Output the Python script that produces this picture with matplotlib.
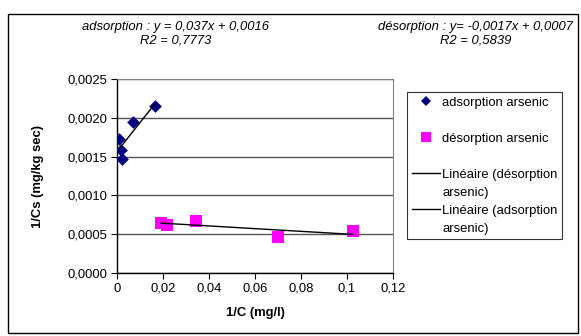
import numpy as np
import matplotlib
matplotlib.use("Agg")
import matplotlib.pyplot as plt
from matplotlib.patches import Rectangle
from matplotlib.lines import Line2D

plt.rcParams['font.family'] = ['Liberation Sans', 'DejaVu Sans']

# Data
ads_x = [0.0010, 0.0016, 0.0023, 0.0070, 0.0164]
ads_y = [0.00173, 0.00159, 0.00147, 0.00194, 0.00215]
des_x = [0.0191, 0.0216, 0.0343, 0.0701, 0.1025]
des_y = [0.00065, 0.00062, 0.00067, 0.00047, 0.00054]

x_ticks = [0, 0.02, 0.04, 0.06, 0.08, 0.10, 0.12]
x_ticklabels = ["0", "0,02", "0,04", "0,06", "0,08", "0,1", "0,12"]
y_ticks = [0.0, 0.0005, 0.0010, 0.0015, 0.0020, 0.0025]
y_ticklabels = ["0,0000", "0,0005", "0,0010", "0,0015", "0,0020", "0,0025"]

ads_eq = "adsorption : y = 0,037x + 0,0016\nR2 = 0,7773"
des_eq = "désorption : y= -0,0017x + 0,0007\nR2 = 0,5839"

FS = 9.4
W, H = 581, 336
fig = plt.figure(figsize=(W / 100, H / 100), dpi=100)
ax = fig.add_axes([117 / W, 1 - 273 / H, (393 - 117) / W, (273 - 79) / H])

# outer frame
fig.patches.append(Rectangle((8 / W, 1 - 333 / H), (578 - 8) / W, (333 - 14) / H,
                             transform=fig.transFigure, fill=False,
                             edgecolor='black', linewidth=1.0))

ax.set_xlim(0, 0.12)
ax.set_ylim(0, 0.0025)
ax.set_yticks(y_ticks)
ax.set_yticklabels(y_ticklabels)
ax.set_xticks(x_ticks)
ax.set_xticklabels(x_ticklabels)
ax.tick_params(axis='both', labelsize=FS, length=4, width=0.8, direction='out', pad=3)
ax.yaxis.grid(True, color='#555555', linewidth=1.0)
ax.set_axisbelow(True)
for s in ['top', 'right']:
    ax.spines[s].set_color('#808080')
for s in ['left', 'bottom']:
    ax.spines[s].set_color('black')
    ax.spines[s].set_linewidth(1.0)

ax.scatter(ads_x, ads_y, marker='D', s=42, color='#000080', zorder=3, linewidths=0)
ax.scatter(des_x, des_y, marker='s', s=70, color='#FF00FF', zorder=3, linewidths=0)

pd_ = np.polyfit(des_x, des_y, 1)
xd = np.array([min(des_x), max(des_x)])
l_des, = ax.plot(xd, np.polyval(pd_, xd), color='black', linewidth=1.0, zorder=4)
pa_ = np.polyfit(ads_x, ads_y, 1)
xa = np.array([min(ads_x), max(ads_x)])
l_ads, = ax.plot(xa, np.polyval(pa_, xa), color='black', linewidth=1.0, zorder=4)

ax.set_xlabel("1/C (mg/l)", fontsize=FS, fontweight='bold', labelpad=9)
ax.set_ylabel("1/Cs (mg/kg sec)", fontsize=FS, fontweight='bold', labelpad=17)

spacer = Line2D([], [], linestyle='none', marker='none')
leg_ads = Line2D([], [], linestyle='none', marker='D', markersize=5.5,
                 color='#000080', markeredgewidth=0)
leg_des = Line2D([], [], linestyle='none', marker='s', markersize=7,
                 color='#FF00FF', markeredgewidth=0)
handles = [leg_ads, spacer, leg_des, spacer, l_des, spacer, l_ads, spacer]
labels = ['adsorption arsenic', ' ', 'désorption arsenic', ' ',
          'Linéaire (désorption', 'arsenic)', 'Linéaire (adsorption', 'arsenic)']
leg = fig.legend(handles, labels, loc='upper left',
                 bbox_to_anchor=(407 / W, 1 - 92 / H), borderaxespad=0,
                 fontsize=FS, frameon=True, fancybox=False, edgecolor='black',
                 labelspacing=0.45, handlelength=2.2, handletextpad=0.15,
                 borderpad=0.35)
leg.get_frame().set_linewidth(0.8)

fig.text(176 / W, 1 - 33.5 / H, ads_eq, ha='center', va='center', fontsize=FS,
         style='italic', linespacing=1.2)
fig.text(476 / W, 1 - 33.5 / H, des_eq, ha='center', va='center', fontsize=FS,
         style='italic', linespacing=1.2)

fig.savefig("out.png", dpi=100)
